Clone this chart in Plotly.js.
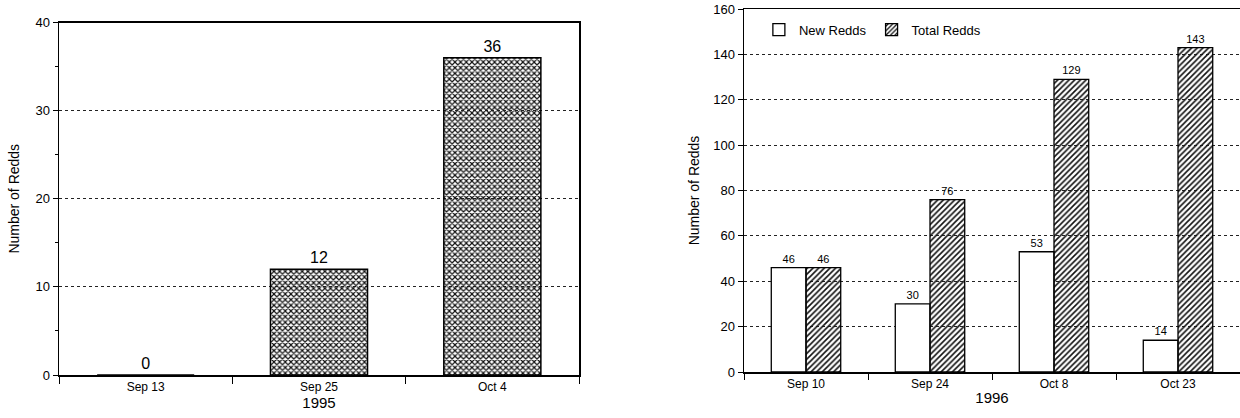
<!DOCTYPE html>
<html>
<head>
<meta charset="utf-8">
<script src="https://cdn.plot.ly/plotly-3.0.1.min.js"></script>
<style>html,body{margin:0;padding:0;background:#fff;}#chart{width:1240px;height:418px;}</style>
</head>
<body>
<div id="chart"></div>
<script>
// 1995 survey
const dates1995 = ["Sep 13", "Sep 25", "Oct 4"];
const redds1995 = [0, 12, 36];
const year1995 = "1995";

// 1996 survey
const dates1996 = ["Sep 10", "Sep 24", "Oct 8", "Oct 23"];
const newRedds1996 = [46, 30, 53, 14];
const totalRedds1996 = [46, 76, 129, 143];
const year1996 = "1996";

const yTitle = "Number of Redds";
const seriesNames = ["New Redds", "Total Redds"];

const FONT = "Liberation Sans, Arial, sans-serif";

const traces = [
  {
    type: "bar", x: dates1995, y: redds1995, xaxis: "x", yaxis: "y",
    showlegend: false,
    text: redds1995.map(String), textposition: "outside", cliponaxis: false,
    textfont: {family: FONT, size: 16, color: "#000"},
    marker: {color: "#a8a8a8", line: {color: "#000", width: 1.5},
      pattern: {shape: "x", size: 4, solidity: 0.5, fgcolor: "#111", fillmode: "replace"}},
    hoverinfo: "x+y"
  },
  {
    type: "bar", name: seriesNames[0], x: dates1996, y: newRedds1996, xaxis: "x2", yaxis: "y2",
    text: newRedds1996.map(String), textposition: "outside", cliponaxis: false,
    textfont: {family: FONT, size: 11, color: "#000"},
    marker: {color: "#ffffff", line: {color: "#000", width: 1.3}}
  },
  {
    type: "bar", name: seriesNames[1], x: dates1996, y: totalRedds1996, xaxis: "x2", yaxis: "y2",
    text: totalRedds1996.map(String), textposition: "outside", cliponaxis: false,
    textfont: {family: FONT, size: 11, color: "#000"},
    marker: {color: "#d8d8d8", line: {color: "#000", width: 1.3},
      pattern: {shape: "/", size: 4, solidity: 0.4, fgcolor: "#111", fillmode: "replace"}}
  }
];

const axisCommon = {
  showline: true, linecolor: "#000", linewidth: 1.5, mirror: true,
  tickfont: {family: FONT, size: 13, color: "#000"},
  ticks: "outside", ticklen: 5, tickcolor: "#000", fixedrange: true
};

const layout = {
  width: 1240, height: 418,
  margin: {l: 0, r: 0, t: 0, b: 0},
  paper_bgcolor: "#fff", plot_bgcolor: "#fff",
  font: {family: FONT, color: "#000"},
  barmode: "group", bargap: 0.44, bargroupgap: 0,
  showlegend: true,
  legend: {
    orientation: "h", x: 0.612, y: 0.965, xanchor: "left", yanchor: "top",
    font: {family: FONT, size: 13, color: "#000"}, bgcolor: "rgba(255,255,255,0)",
    itemwidth: 30, traceorder: "normal"
  },
  xaxis: Object.assign({}, axisCommon, {
    domain: [59/1240, 579/1240], anchor: "y",
    tickson: "boundaries", ticklen: 7,
    tickfont: {family: FONT, size: 12, color: "#000"},
    title: {text: year1995, standoff: 2, font: {family: FONT, size: 15, color: "#000"}}
  }),
  yaxis: Object.assign({}, axisCommon, {
    domain: [1 - 375/418, 1 - 22.5/418], anchor: "x",
    range: [0, 40], dtick: 10,
    showgrid: true, gridcolor: "#222", griddash: "dot", gridwidth: 1,
    zeroline: false,
    minor: {ticks: "outside", dtick: 5, ticklen: 3, tickcolor: "#000", showgrid: false},
    title: {text: yTitle, standoff: 12, font: {family: FONT, size: 14, color: "#000"}}
  }),
  xaxis2: Object.assign({}, axisCommon, {
    domain: [744/1240, 1], anchor: "y2",
    tickson: "boundaries", ticklen: 6,
    tickfont: {family: FONT, size: 12, color: "#000"},
    title: {text: year1996, standoff: 2, font: {family: FONT, size: 15, color: "#000"}}
  }),
  yaxis2: Object.assign({}, axisCommon, {
    domain: [1 - 372/418, 1 - 9/418], anchor: "x2",
    range: [0, 160], dtick: 20,
    showgrid: true, gridcolor: "#222", griddash: "dot", gridwidth: 1,
    zeroline: false,
    title: {text: yTitle, standoff: 10, font: {family: FONT, size: 14, color: "#000"}}
  })
};

Plotly.newPlot("chart", traces, layout, {staticPlot: true, displayModeBar: false});
</script>
</body>
</html>
